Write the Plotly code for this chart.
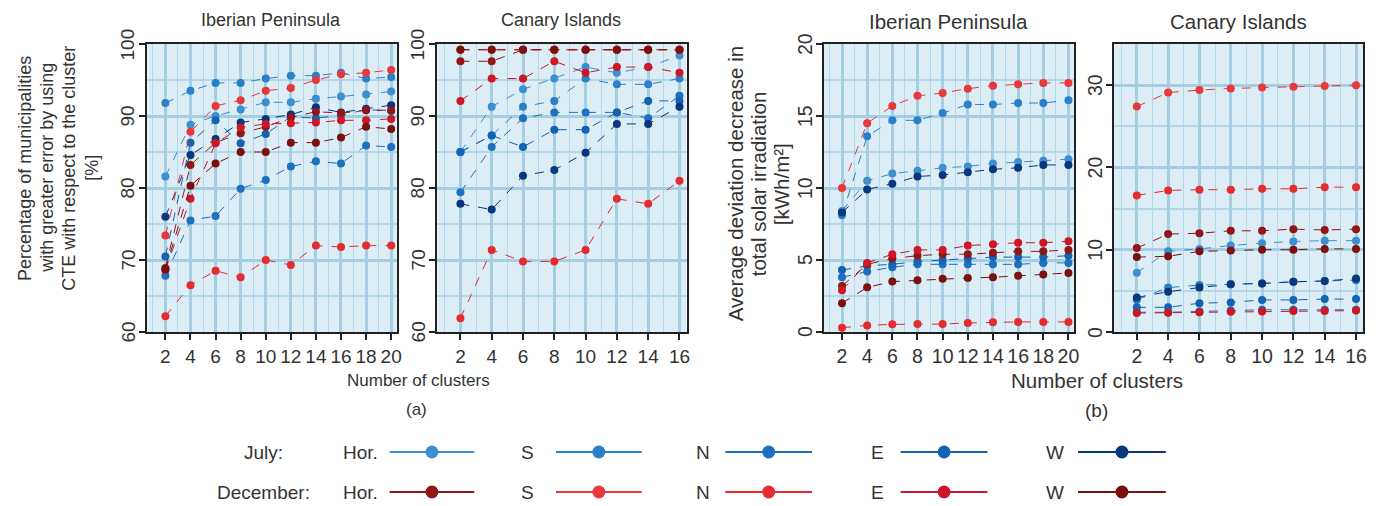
import plotly.graph_objects as go

W, H = 1386, 506

# ---------------- data ----------------
x_ib = [2, 4, 6, 8, 10, 12, 14, 16, 18, 20]
x_ca = [2, 4, 6, 8, 10, 12, 14, 16]

y_ticks_a = [60, 70, 80, 90, 100]
y_ticks_b_ib = [0, 5, 10, 15, 20]
y_ticks_b_ca = [0, 10, 20, 30]

series_names = ["Hor.", "S", "N", "E", "W"]

# Panel (a) Iberian Peninsula  [%]
a_ib_jul_hor = [81.6, 88.8, 90.0, 90.9, 91.9, 91.9, 92.4, 92.7, 93.0, 93.4]
a_ib_jul_s = [91.8, 93.5, 94.6, 94.6, 95.2, 95.6, 95.6, 96.0, 95.2, 95.4]
a_ib_jul_n = [67.8, 75.5, 76.1, 79.9, 81.1, 83.0, 83.7, 83.4, 85.9, 85.7]
a_ib_jul_e = [70.5, 86.3, 89.4, 86.2, 87.5, 89.9, 89.7, 90.1, 90.9, 90.7]
a_ib_jul_w = [76.0, 84.6, 86.8, 89.1, 89.6, 90.2, 91.2, 90.5, 91.0, 91.5]
a_ib_dec_hor = [68.9, 83.2, 86.3, 87.6, 88.5, 89.8, 90.6, 90.4, 90.8, 90.8]
a_ib_dec_s = [73.4, 87.8, 91.4, 92.2, 93.5, 93.9, 95.0, 95.8, 96.0, 96.4]
a_ib_dec_n = [62.2, 66.5, 68.5, 67.6, 70.0, 69.3, 72.0, 71.8, 72.0, 72.0]
a_ib_dec_e = [68.6, 78.5, 86.2, 88.4, 88.9, 89.0, 89.1, 89.4, 89.4, 89.6]
a_ib_dec_w = [68.7, 80.3, 83.4, 85.0, 85.0, 86.3, 86.3, 87.0, 88.5, 88.2]

# Panel (a) Canary Islands  [%]
a_ca_jul_hor = [85.0, 91.3, 93.7, 95.2, 96.8, 96.0, 96.8, 98.4]
a_ca_jul_s = [85.0, 87.3, 91.3, 92.1, 95.2, 94.4, 94.4, 95.2]
a_ca_jul_n = [79.4, 85.7, 89.7, 90.5, 90.5, 90.5, 89.7, 92.8]
a_ca_jul_e = [85.0, 87.3, 85.7, 88.1, 88.1, 90.5, 92.1, 92.1]
a_ca_jul_w = [77.8, 77.0, 81.7, 82.5, 84.9, 88.9, 88.9, 91.3]
a_ca_dec_hor = [97.6, 97.6, 99.2, 99.2, 99.2, 99.2, 99.2, 99.2]
a_ca_dec_s = [99.2, 99.2, 99.2, 99.2, 99.2, 99.2, 99.2, 99.2]
a_ca_dec_n = [61.9, 71.4, 69.8, 69.8, 71.4, 78.5, 77.8, 81.0]
a_ca_dec_e = [92.1, 95.2, 95.2, 97.6, 96.0, 96.8, 96.8, 96.0]
a_ca_dec_w = [99.2, 99.2, 99.2, 99.2, 99.2, 99.2, 99.2, 99.2]

# Panel (b) Iberian Peninsula  [kWh/m2]
b_ib_jul_hor = [8.4, 10.5, 11.0, 11.2, 11.4, 11.5, 11.7, 11.8, 11.9, 12.0]
b_ib_jul_s = [8.1, 13.6, 14.7, 14.7, 15.2, 15.8, 15.8, 15.9, 15.9, 16.1]
b_ib_jul_n = [3.8, 4.2, 4.5, 4.7, 4.7, 4.7, 4.7, 4.7, 4.8, 4.8]
b_ib_jul_e = [4.3, 4.6, 4.7, 4.9, 5.0, 5.1, 5.2, 5.2, 5.2, 5.3]
b_ib_jul_w = [8.3, 9.9, 10.3, 10.8, 10.9, 11.1, 11.3, 11.4, 11.6, 11.6]
b_ib_dec_hor = [3.2, 4.7, 5.1, 5.3, 5.4, 5.4, 5.5, 5.6, 5.6, 5.7]
b_ib_dec_s = [10.0, 14.5, 15.7, 16.4, 16.6, 16.9, 17.1, 17.2, 17.3, 17.3]
b_ib_dec_n = [0.3, 0.46, 0.53, 0.55, 0.55, 0.63, 0.68, 0.7, 0.7, 0.7]
b_ib_dec_e = [2.9, 4.8, 5.4, 5.7, 5.7, 6.0, 6.1, 6.2, 6.2, 6.3]
b_ib_dec_w = [2.0, 3.1, 3.5, 3.6, 3.7, 3.75, 3.8, 3.9, 4.0, 4.1]

# Panel (b) Canary Islands  [kWh/m2]
b_ca_jul_hor = [7.2, 9.8, 10.1, 10.5, 10.8, 11.0, 11.1, 11.1]
b_ca_jul_s = [3.9, 5.4, 5.7, 5.8, 5.9, 6.1, 6.2, 6.3]
b_ca_jul_n = [2.4, 2.4, 2.5, 2.6, 2.7, 2.7, 2.7, 2.7]
b_ca_jul_e = [3.0, 3.0, 3.5, 3.6, 3.9, 3.9, 4.0, 4.0]
b_ca_jul_w = [4.2, 4.9, 5.4, 5.8, 5.9, 6.1, 6.2, 6.5]
b_ca_dec_hor = [10.2, 11.9, 12.0, 12.3, 12.3, 12.5, 12.4, 12.5]
b_ca_dec_s = [27.4, 29.1, 29.4, 29.6, 29.7, 29.8, 29.9, 30.0]
b_ca_dec_n = [16.6, 17.2, 17.3, 17.3, 17.4, 17.4, 17.6, 17.6]
b_ca_dec_e = [2.3, 2.35, 2.4, 2.45, 2.5, 2.55, 2.55, 2.6]
b_ca_dec_w = [9.1, 9.2, 9.8, 9.9, 10.0, 10.0, 10.1, 10.1]

jul_colors = ["#3d8fd2", "#2a80c8", "#1c70bf", "#1363b2", "#08377d"]
dec_colors = ["#921616", "#e8383b", "#e42c30", "#cd1724", "#7b1010"]

panels = [
    ("x", "y", x_ib,
     [a_ib_jul_hor, a_ib_jul_s, a_ib_jul_n, a_ib_jul_e, a_ib_jul_w],
     [a_ib_dec_hor, a_ib_dec_s, a_ib_dec_n, a_ib_dec_e, a_ib_dec_w]),
    ("x2", "y2", x_ca,
     [a_ca_jul_hor, a_ca_jul_s, a_ca_jul_n, a_ca_jul_e, a_ca_jul_w],
     [a_ca_dec_hor, a_ca_dec_s, a_ca_dec_n, a_ca_dec_e, a_ca_dec_w]),
    ("x3", "y3", x_ib,
     [b_ib_jul_hor, b_ib_jul_s, b_ib_jul_n, b_ib_jul_e, b_ib_jul_w],
     [b_ib_dec_hor, b_ib_dec_s, b_ib_dec_n, b_ib_dec_e, b_ib_dec_w]),
    ("x4", "y4", x_ca,
     [b_ca_jul_hor, b_ca_jul_s, b_ca_jul_n, b_ca_jul_e, b_ca_jul_w],
     [b_ca_dec_hor, b_ca_dec_s, b_ca_dec_n, b_ca_dec_e, b_ca_dec_w]),
]

fig = go.Figure()
for xa, ya, xs, jul, dec in panels:
    for month, group, cols in (("July", jul, jul_colors), ("December", dec, dec_colors)):
        for name, ys, c in zip(series_names, group, cols):
            fig.add_trace(go.Scatter(
                x=xs, y=ys, xaxis=xa, yaxis=ya, mode="lines+markers",
                name=f"{month} {name}", showlegend=False,
                line=dict(color=c, width=1, dash="dash"),
                marker=dict(color=c, size=8),
            ))

def px_x(p):
    return p / W

def px_y(p):
    return 1 - p / H

FONT = "Liberation Sans, Arial, sans-serif"
TXT = "#333333"

y0, y1 = px_y(332), px_y(44)
doms = [(148, 398), (439, 689), (827, 1078), (1118, 1368)]
xranges = [[0.57, 20.43], [0.53, 16.45], [0.57, 20.45], [0.54, 16.45]]
yranges = [[60, 100], [60, 100], [0, 20], [0, 35]]
yticks = [y_ticks_a, y_ticks_a, y_ticks_b_ib, y_ticks_b_ca]
yminor = [5, 5, 2.5, 5]
xticks = [x_ib, x_ca, x_ib, x_ca]
tick_size = [19, 19, 19.5, 19.5]

ann = []
def text(x, y, s, size=15, xanchor="center", yanchor="middle", angle=0):
    ann.append(dict(x=px_x(x), y=px_y(y), xref="paper", yref="paper", text=s,
                    showarrow=False, xanchor=xanchor, yanchor=yanchor,
                    textangle=angle, font=dict(size=size, color=TXT, family=FONT)))

layout = dict(
    width=W, height=H, margin=dict(l=0, r=0, t=0, b=0),
    paper_bgcolor="white", plot_bgcolor="#dcedf6",
    font=dict(family=FONT, color=TXT, size=17),
)
for i in range(4):
    k = "" if i == 0 else str(i + 1)
    layout["xaxis" + k] = dict(
        domain=[px_x(doms[i][0]), px_x(doms[i][1])], anchor="y" + k,
        range=xranges[i], tickvals=xticks[i], ticks="outside", ticklen=6,
        tickwidth=2, tickcolor="#222", showline=True, linecolor="#222",
        linewidth=2, mirror=True, showgrid=True, gridcolor="#a4cfe3",
        gridwidth=3, zeroline=False, tickfont=dict(size=tick_size[i], color=TXT),
        minor=dict(dtick=1, tick0=0, showgrid=True, gridcolor="#b4d8ea", gridwidth=1),
    )
    layout["yaxis" + k] = dict(
        domain=[y0, y1], anchor="x" + k, range=yranges[i], tickvals=yticks[i],
        ticks="outside", ticklen=6, tickwidth=2, tickcolor="#222",
        showline=True, linecolor="#222", linewidth=2, mirror=True,
        showgrid=True, gridcolor="#a4cfe3", gridwidth=3, zeroline=False,
        showticklabels=False,
        minor=dict(dtick=yminor[i], tick0=0, showgrid=True, gridcolor="#b4d8ea", gridwidth=1.5),
    )
    # rotated tick labels (reading bottom-to-top), centred on each tick
    for v in yticks[i]:
        ann.append(dict(x=0, y=v, xref=f"x{k} domain", yref=f"y{k}", text=str(v),
                        showarrow=False, xanchor="center", yanchor="middle",
                        xshift=-19, textangle=-90,
                        font=dict(size=tick_size[i], color=TXT, family=FONT)))

text(272, 20, "Iberian Peninsula", 18)
text(563, 20, "Canary Islands", 18)
text(952, 22, "Iberian Peninsula", 20.5)
text(1243, 22, "Canary Islands", 20.5)

for xx, line in zip([25, 47, 69, 92],
                    ["Percentage of municipalities", "with greater error by using",
                     "CTE with respect to the cluster", "[%]"]):
    text(xx, 168, line, 18, angle=-90)
for xx, line in zip([738, 761, 784],
                    ["Average deviation decrease in", "total solar irradiation", "[kWh/m²]"]):
    text(xx, 184, line, 20.5, angle=-90)

text(420, 380, "Number of clusters", 17)
text(1101, 380, "Number of clusters", 20.5)
text(418, 409, "(a)", 17)
text(1100, 410, "(b)", 19)

shapes = []
rows = [(452, "July:", jul_colors), (492, "December:", dec_colors)]
lab_x = [342, 521, 697, 872, 1048]
line_x = [(391, 476), (558, 644), (728, 815), (904, 991), (1082, 1170)]
for ry, lab, cols in rows:
    text(264, ry, lab, 19, xanchor="center")
    for j in range(5):
        text(lab_x[j], ry, series_names[j], 19, xanchor="left")
        lx0, lx1 = line_x[j]
        shapes.append(dict(type="line", xref="paper", yref="paper",
                           x0=px_x(lx0), x1=px_x(lx1), y0=px_y(ry), y1=px_y(ry),
                           line=dict(color=cols[j], width=2)))
        cx = (lx0 + lx1) / 2
        r = 6.5
        shapes.append(dict(type="circle", xref="paper", yref="paper",
                           x0=px_x(cx - r), x1=px_x(cx + r), y0=px_y(ry + r), y1=px_y(ry - r),
                           fillcolor=cols[j], line=dict(color=cols[j], width=0)))

layout["annotations"] = ann
layout["shapes"] = shapes
fig.update_layout(**layout)
fig.write_html("out.html")
